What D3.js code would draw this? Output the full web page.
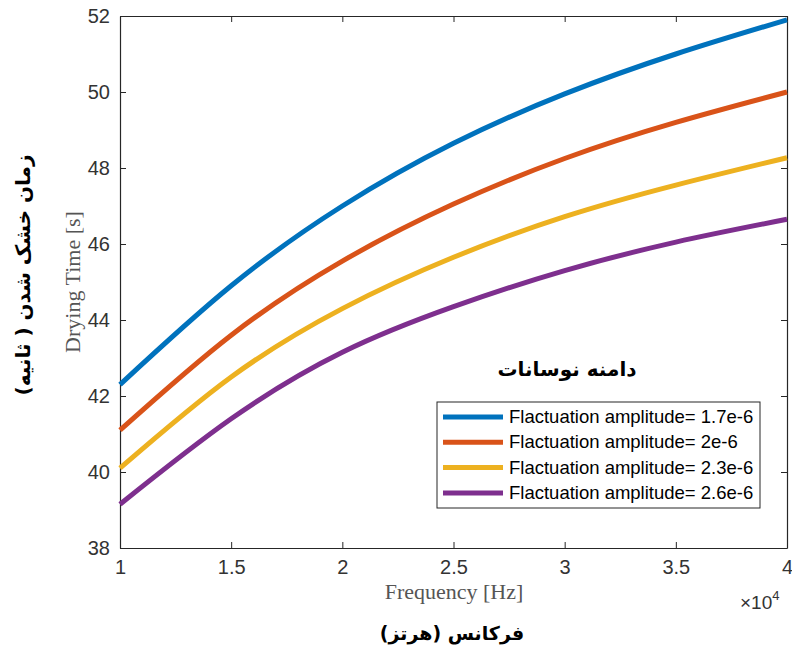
<!DOCTYPE html>
<html><head><meta charset="utf-8">
<script src="https://cdn.jsdelivr.net/npm/d3@7/dist/d3.min.js"></script>
<style>body{margin:0;background:#fff}</style>
</head><body>
<script>
const freq = [1, 1.5, 2, 2.5, 3, 3.5, 4]; // x 10^4 Hz
const seriesNames = ["Flactuation amplitude= 1.7e-6","Flactuation amplitude= 2e-6","Flactuation amplitude= 2.3e-6","Flactuation amplitude= 2.6e-6"];
const amp17 = [42.3, 44.9, 47.0, 48.65, 49.95, 51.0, 51.9];
const amp20 = [41.1, 43.6, 45.55, 47.05, 48.25, 49.2, 50.0];
const amp23 = [40.1, 42.5, 44.3, 45.65, 46.72, 47.55, 48.27];
const amp26 = [39.15, 41.4, 43.15, 44.35, 45.3, 46.05, 46.65];
const colors = ["#0072BD","#D95319","#EDB120","#7E2F8E"];
const xTicks = [1, 1.5, 2, 2.5, 3, 3.5, 4];
const yTicks = [38, 40, 42, 44, 46, 48, 50, 52];

const W = 792, H = 648;
const L = 120, R = 787, T = 16, B = 548;
const svg = d3.select("body").append("svg").attr("width", W).attr("height", H);
const x = d3.scaleLinear().domain([1, 4]).range([L, R]);
const y = d3.scaleLinear().domain([38, 52]).range([B, T]);

const axisColor = "#262626";
const tickFont = "'Liberation Sans', Arial, sans-serif";

const gx = svg.append("g").attr("transform", `translate(0,${B})`)
  .call(d3.axisBottom(x).tickValues(xTicks).tickSizeInner(-6).tickSizeOuter(0).tickPadding(12).tickFormat(d3.format("")));
const gxt = svg.append("g").attr("transform", `translate(0,${T})`)
  .call(d3.axisTop(x).tickValues(xTicks).tickSizeInner(-6).tickSizeOuter(0).tickFormat(""));
const gy = svg.append("g").attr("transform", `translate(${L},0)`)
  .call(d3.axisLeft(y).tickValues(yTicks).tickSizeInner(-6).tickSizeOuter(0).tickPadding(10));
const gyr = svg.append("g").attr("transform", `translate(${R},0)`)
  .call(d3.axisRight(y).tickValues(yTicks).tickSizeInner(-6).tickSizeOuter(0).tickFormat(""));
[gx, gxt, gy, gyr].forEach(g => {
  g.selectAll("path").attr("stroke", axisColor).attr("stroke-width", 1.2);
  g.selectAll("line").attr("stroke", axisColor).attr("stroke-width", 1);
  g.selectAll("text").attr("fill", "#333").style("font-family", tickFont).style("font-size", "20px");
});

const allSeries = [amp17, amp20, amp23, amp26];
const line = d3.line().x((d, i) => x(freq[i])).y(d => y(d)).curve(d3.curveNatural);
const plot = svg.append("g");
allSeries.forEach((s, k) => {
  plot.append("path").datum(s).attr("d", line).attr("fill", "none")
    .attr("stroke", colors[k]).attr("stroke-width", 5).attr("stroke-linecap", "butt");
});

const ex = svg.append("text").attr("x", 740).attr("y", 609).attr("fill", "#333")
  .style("font-family", tickFont).style("font-size", "19px");
ex.append("tspan").text("×10");
ex.append("tspan").attr("dy", -9).style("font-size", "13px").text("4");

svg.append("text").attr("x", 454).attr("y", 599).attr("text-anchor", "middle")
  .attr("fill", "#555").style("font-family", "'Liberation Serif', 'DejaVu Serif', serif").style("font-size", "22px")
  .text("Frequency [Hz]");
svg.append("text").attr("x", 452).attr("y", 640).attr("text-anchor", "middle")
  .attr("fill", "#000").style("font-family", "'DejaVu Sans', sans-serif").style("font-weight", "bold").style("font-size", "19px")
  .attr("direction", "rtl").text("فرکانس (هرتز)");
svg.append("text").attr("transform", "translate(80,282) rotate(-90)").attr("text-anchor", "middle")
  .attr("fill", "#555").style("font-family", "'Liberation Serif', 'DejaVu Serif', serif").style("font-size", "22px")
  .text("Drying Time [s]");
svg.append("text").attr("transform", "translate(30,275) rotate(-90)").attr("text-anchor", "middle")
  .attr("fill", "#000").style("font-family", "'DejaVu Sans', sans-serif").style("font-weight", "bold").style("font-size", "20px")
  .attr("direction", "rtl").text("زمان خشک شدن ( ثانیه)");

svg.append("text").attr("x", 567).attr("y", 376).attr("text-anchor", "middle")
  .attr("fill", "#000").style("font-family", "'DejaVu Sans', sans-serif").style("font-weight", "bold").style("font-size", "20px")
  .attr("direction", "rtl").text("دامنه نوسانات");

const lg = svg.append("g");
lg.append("rect").attr("x", 437).attr("y", 402).attr("width", 323).attr("height", 106)
  .attr("fill", "#fff").attr("stroke", "#262626").attr("stroke-width", 1);
seriesNames.forEach((n, k) => {
  const yy = 417 + k * 25.3;
  lg.append("line").attr("x1", 443).attr("x2", 503).attr("y1", yy).attr("y2", yy)
    .attr("stroke", colors[k]).attr("stroke-width", 5);
  lg.append("text").attr("x", 509).attr("y", yy + 6).attr("fill", "#000")
    .style("font-family", tickFont).style("font-size", "18.5px").text(n);
});
</script>
</body></html>
